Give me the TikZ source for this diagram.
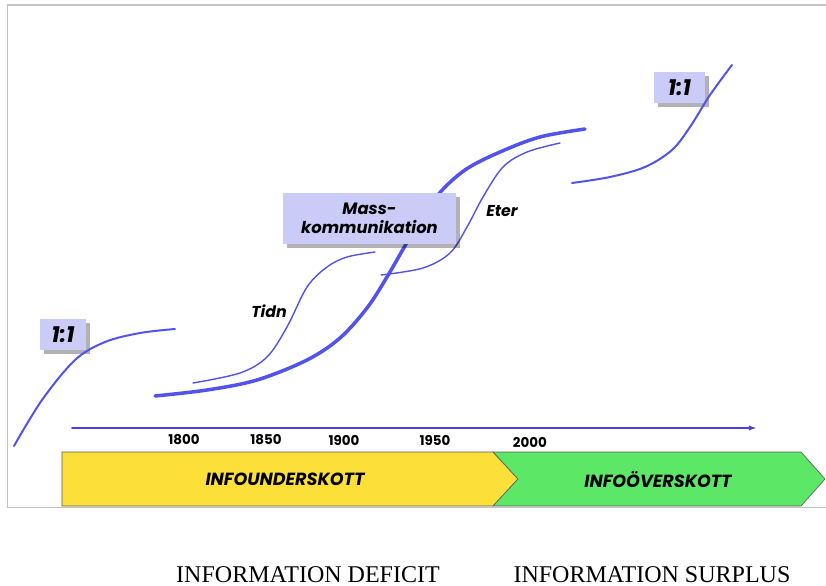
\documentclass[tikz,border=0pt]{standalone}
\usepackage{fontspec}
\setsansfont{Poppins}
\setmainfont{Liberation Serif}
\usetikzlibrary{arrows.meta,positioning,shadows}
\definecolor{curveblue}{HTML}{5252EE}
\definecolor{axisblue}{HTML}{4A3FE0}
\definecolor{boxlav}{HTML}{CBCBF8}
\definecolor{deficityellow}{HTML}{FDDF3A}
\definecolor{surplusgreen}{HTML}{5CE866}
\definecolor{framegrey}{HTML}{C4C4C4}
\tikzset{
  ratiobox/.style={fill=boxlav, inner sep=0pt, minimum width=1.38cm, minimum height=0.93cm,
    font=\sffamily\bfseries\itshape\fontsize{19}{21}\selectfont,
    drop shadow={shadow xshift=3pt, shadow yshift=-3pt, fill=black, opacity=0.3}},
  massbox/.style={ratiobox, minimum width=5.19cm, minimum height=1.53cm, align=center,
    font=\sffamily\bfseries\itshape\fontsize{14}{16.5}\selectfont},
  medialabel/.style={font=\sffamily\bfseries\itshape\fontsize{13.5}{15}\selectfont},
  yearlabel/.style={font=\sffamily\bfseries\fontsize{11.5}{13}\selectfont},
  bannerlabel/.style={font=\sffamily\bfseries\itshape\fontsize{15}{17}\selectfont},
  captionlabel/.style={anchor=base, inner sep=0pt, font=\rmfamily\fontsize{20.5}{23}\selectfont},
  thincurve/.style={curveblue, line width=1.2pt},
  sidecurve/.style={curveblue, line width=1.7pt},
  masscurve/.style={curveblue, line width=3pt}
}
\begin{document}
\begin{tikzpicture}[x=0.03cm, y=-0.03cm, line cap=round]
                        \useasboundingbox (0,0) rectangle (826,586);

                        % Drawing frame
                        \draw [framegrey, line width=1.6pt] (7.5,507.5) -- (7.5,5.000000) -- (826,5.000000);%
                        \draw [framegrey, line width=1.6pt] (7.5,507.5) -- (826,507.5);%

                        % Drawing banner deficit
                        \draw [fill=deficityellow, draw=black!65, line width=0.5pt]
                              (62,452) -- (493,452) -- (518,479) -- (493,506) -- (62,506) -- cycle;%

                        % Drawing banner surplus
                        \draw [fill=surplusgreen, draw=black!65, line width=0.5pt]
                              (493,452) -- (801,452) -- (825,479) -- (801,506) -- (493,506) -- (518,479) -- cycle;%

                        % Marking banner texts
                        \node [bannerlabel] (under) at (285,479) {INFOUNDERSKOTT};%
                        \node [bannerlabel] (over) at (658,479) {INFOÖVERSKOTT};%

                        % Drawing time axis
                        \coordinate (axisstart) at (72,428);
                        \coordinate (axisend) at (757,428);
                        \draw [axisblue, line width=1.3pt, -{Latex[length=7pt,width=4.5pt]}] (axisstart) -- (axisend);%

                        % Marking years
                        \node [yearlabel] (y1800) at (184,440) {1800};%
                        \node [yearlabel] (y1850) at (266,440) {1850};%
                        \node [yearlabel] (y1900) at (344,440) {1900};%
                        \node [yearlabel] (y1950) at (435,440) {1950};%
                        \node [yearlabel] (y2000) at (530,442) {2000};%

                        % Drawing curve mass
                        \draw [masscurve] plot [smooth, tension=0.55] coordinates
                              {(155,396) (207,390) (257,380) (307,360) (340,338) (367,308) (387,277)
                               (412,234) (437,196) (465,170) (500,152) (540,137) (585,129)};%

                        % Drawing curve Tidn
                        \draw [thincurve] plot [smooth, tension=0.55] coordinates
                              {(193,383) (240,373) (267,357) (287,327) (307,287) (327,267) (347,257) (375,252)};%

                        % Drawing curve Eter
                        \draw [thincurve] plot [smooth, tension=0.55] coordinates
                              {(381,275) (423,268) (450,253) (467,227) (483,197) (503,167) (527,152) (560,143)};%

                        % Marking media
                        \node [medialabel] (tidn) at (269,311) {Tidn};%
                        \node [medialabel] (eter) at (502,211) {Eter};%

                        % Marking box mass
                        \node [massbox] (mass) at (369.5,218.5) {Mass-\\kommunikation};%

                        % Marking boxes 1:1
                        \node [ratiobox] (ratioleft) at (63,334.5) {1:1};%
                        \node [ratiobox, minimum width=1.53cm] (ratioright) at (679.5,87.5) {1:1};%

                        % Drawing curve left
                        \draw [sidecurve] plot [smooth, tension=0.55] coordinates
                              {(14,446) (42,400) (75,360) (105,342) (140,333) (175,329)};%

                        % Drawing curve right
                        \draw [sidecurve] plot [smooth, tension=0.55] coordinates
                              {(572,183) (610,177) (645,167) (672,150) (690,127) (710,95) (732,65)};%

                        % Marking captions
                        \node [captionlabel] (deficit) at (308,582) {INFORMATION DEFICIT};%
                        \node [captionlabel] (surplus) at (652,582) {INFORMATION SURPLUS};%
\end{tikzpicture}
\end{document}
